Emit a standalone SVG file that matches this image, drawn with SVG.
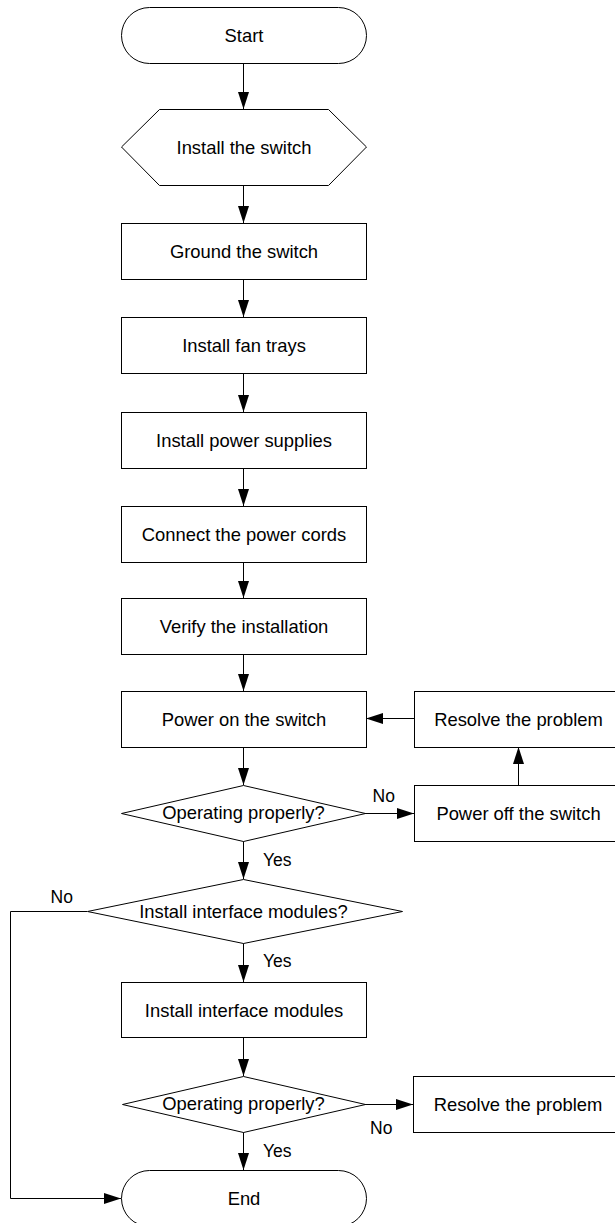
<svg xmlns="http://www.w3.org/2000/svg" width="615" height="1223" viewBox="0 0 615 1223">
<style>
.s{fill:#fff;stroke:#000;stroke-width:1}
.t{font-family:"Liberation Sans",Arial,sans-serif;font-size:18.4px;fill:#000;text-anchor:middle}
.l{font-family:"Liberation Sans",Arial,sans-serif;font-size:17.5px;fill:#000}
.c{fill:none;stroke:#000;stroke-width:1}
</style>
<defs>
<marker id="a" markerUnits="userSpaceOnUse" markerWidth="18" markerHeight="12" refX="17" refY="6" orient="auto">
<path d="M0,0.5 L17,6 L0,11.5 Z" fill="#000"/>
</marker>
</defs>
<rect width="615" height="1223" fill="#fff"/>
<g id="connectors">
<path class="c" d="M243.5,63 V109" marker-end="url(#a)"/>
<path class="c" d="M243.5,185 V223" marker-end="url(#a)"/>
<path class="c" d="M243.5,279 V317" marker-end="url(#a)"/>
<path class="c" d="M243.5,373 V412" marker-end="url(#a)"/>
<path class="c" d="M243.5,468 V506" marker-end="url(#a)"/>
<path class="c" d="M243.5,562 V598" marker-end="url(#a)"/>
<path class="c" d="M243.5,654 V691" marker-end="url(#a)"/>
<path class="c" d="M243.5,747 V785" marker-end="url(#a)"/>
<path class="c" d="M365,813.5 H414" marker-end="url(#a)"/>
<path class="c" d="M518.5,785 V747" marker-end="url(#a)"/>
<path class="c" d="M414,718.5 H366" marker-end="url(#a)"/>
<path class="c" d="M243.5,841 V879" marker-end="url(#a)"/>
<path class="c" d="M243.5,943 V982" marker-end="url(#a)"/>
<path class="c" d="M87,911.5 H10.5 V1198.5 H121" marker-end="url(#a)"/>
<path class="c" d="M243.5,1037 V1076" marker-end="url(#a)"/>
<path class="c" d="M365,1104.5 H413" marker-end="url(#a)"/>
<path class="c" d="M243.5,1132 V1170" marker-end="url(#a)"/>
<text class="l" x="372.5" y="802">No</text>
<text class="l" x="263" y="866">Yes</text>
<text class="l" x="50.5" y="903">No</text>
<text class="l" x="263" y="967">Yes</text>
<text class="l" x="370" y="1134">No</text>
<text class="l" x="263" y="1157">Yes</text>
</g>
<g id="start"><rect class="s" x="121.5" y="7.5" width="245" height="56" rx="28" ry="28"/><text class="t" x="244" y="41.5">Start</text></g>
<g id="install-switch"><polygon class="s" points="121.5,147 159.5,109.5 328.5,109.5 366.5,147 328.5,185.5 159.5,185.5"/><text class="t" x="244" y="153.5">Install the switch</text></g>
<g id="ground"><rect class="s" x="121.5" y="223.5" width="245" height="56"/><text class="t" x="244" y="258">Ground the switch</text></g>
<g id="fan"><rect class="s" x="121.5" y="317.5" width="245" height="56"/><text class="t" x="244" y="352">Install fan trays</text></g>
<g id="psu"><rect class="s" x="121.5" y="412.5" width="245" height="56"/><text class="t" x="244" y="447">Install power supplies</text></g>
<g id="cords"><rect class="s" x="121.5" y="506.5" width="245" height="56"/><text class="t" x="244" y="541">Connect the power cords</text></g>
<g id="verify"><rect class="s" x="121.5" y="598.5" width="245" height="56"/><text class="t" x="244" y="633">Verify the installation</text></g>
<g id="poweron"><rect class="s" x="121.5" y="691.5" width="245" height="56"/><text class="t" x="244" y="726">Power on the switch</text></g>
<g id="resolve1"><rect class="s" x="414.5" y="691.5" width="208" height="56"/><text class="t" x="518.5" y="726">Resolve the problem</text></g>
<g id="check1"><polygon class="s" points="121.5,813.5 243.5,785.5 365.5,813.5 243.5,841.5"/><text class="t" x="243.5" y="819">Operating properly?</text></g>
<g id="poweroff"><rect class="s" x="414.5" y="785.5" width="208" height="56"/><text class="t" x="518.5" y="820">Power off the switch</text></g>
<g id="check-modules"><polygon class="s" points="87.5,911.5 243.5,879.5 402.5,911.5 243.5,943.5"/><text class="t" x="243.5" y="917.5">Install interface modules?</text></g>
<g id="install-modules"><rect class="s" x="121.5" y="982.5" width="245" height="55"/><text class="t" x="244" y="1016.5">Install interface modules</text></g>
<g id="check2"><polygon class="s" points="122.5,1104.5 243.5,1076.5 365.5,1104.5 243.5,1132.5"/><text class="t" x="243.5" y="1110">Operating properly?</text></g>
<g id="resolve2"><rect class="s" x="413.5" y="1076.5" width="209" height="56"/><text class="t" x="518" y="1111">Resolve the problem</text></g>
<g id="end"><rect class="s" x="121.5" y="1170.5" width="245" height="56" rx="28" ry="28"/><text class="t" x="244" y="1205">End</text></g>
</svg>
